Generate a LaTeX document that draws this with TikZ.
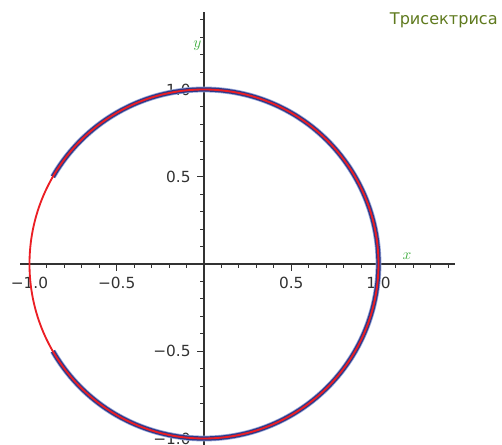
\documentclass[tikz,border=0pt]{standalone}
\usepackage{fontspec}
\setmainfont{DejaVu Sans}
\usetikzlibrary{positioning}
\definecolor{curvecolor}{RGB}{235,30,36}
\definecolor{pointcolor}{RGB}{44,56,138}
\definecolor{haloblue}{RGB}{150,165,215}
\definecolor{axiscolor}{RGB}{50,50,50}
\definecolor{labelcolor}{RGB}{70,175,70}
\definecolor{titlecolor}{RGB}{95,122,30}

\begin{document}
\begin{tikzpicture}[
  x=4cm, y=4cm,
  axisline/.style={draw=axiscolor, line width=0.75pt},
  tickmark/.style={draw=axiscolor, line width=0.6pt},
  ticklabel/.style={text=axiscolor, font=\fontsize{10}{12}\selectfont, inner sep=0pt},
  axislabel/.style={text=labelcolor, font=\normalsize, inner sep=0pt}
]
\useasboundingbox (-1.169,-1.037) rectangle (1.708,1.513);

% -------- Axes --------
\draw[axisline] (-1.054,0) -- (1.438,0);
\draw[axisline] (0,-1.10) -- (0,1.444);

% -------- Ticks --------
\foreach \t in {-10,...,14}{
  \draw[tickmark] (\t/10,0) -- (\t/10,-0.023);
  \draw[tickmark] (0,\t/10) -- (-0.023,\t/10);
}
\foreach \t in {-1.0,-0.5,0.5,1.0}{
  \draw[tickmark] (\t,0) -- (\t,-0.04);
  \draw[tickmark] (0,\t) -- (-0.04,\t);
}

% -------- Tick labels --------
\node[ticklabel, anchor=base] (xm10) at (-1.0,-0.143) {−1.0};
\node[ticklabel, anchor=base] (xm05) at (-0.5,-0.143) {−0.5};
\node[ticklabel, anchor=base] (xp05) at (0.5,-0.143) {0.5};
\node[ticklabel, anchor=base] (xp10) at (1.0,-0.143) {1.0};
\node[ticklabel, anchor=east] (ym10) at (-0.075,-1.0) {−1.0};
\node[ticklabel, anchor=east] (ym05) at (-0.075,-0.5) {−0.5};
\node[ticklabel, anchor=east] (yp05) at (-0.075,0.5) {0.5};
\node[ticklabel, anchor=east] (yp10) at (-0.075,1.0) {1.0};

% -------- Axis labels --------
\node[axislabel] (xlabel) at (1.163,0.042) {$x$};
\node[axislabel] (ylabel) at (-0.038,1.25) {$y$};

% -------- Curve --------
\draw[haloblue, line width=3.8pt] (-150:1) arc[start angle=-150, end angle=150, radius=1];
\draw[pointcolor, line width=2.8pt] (-150:1) arc[start angle=-150, end angle=150, radius=1];
\draw[curvecolor, line width=1.2pt] (0,0) circle[radius=1];

% -------- Title --------
\node[text=titlecolor, font=\fontsize{10.5}{12}\selectfont, anchor=east, inner sep=0pt] (title) at (1.685,1.398) {Трисектриса};

\end{tikzpicture}
\end{document}
